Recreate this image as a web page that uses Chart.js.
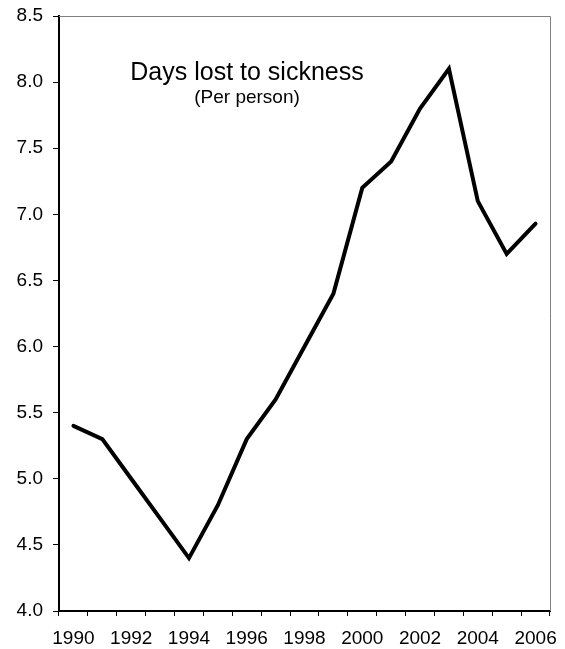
<!DOCTYPE html>
<html>
<head>
<meta charset="utf-8">
<script src="https://cdn.jsdelivr.net/npm/chart.js@4/dist/chart.umd.min.js"></script>
<style>
  body { margin: 0; background: #fff; }
  #wrap { width: 565px; height: 649px; position: relative; }
</style>
</head>
<body>
<div id="wrap"><canvas id="sickChart"></canvas></div>
<script>
// data
const years = ['1990', '1991', '1992', '1993', '1994', '1995', '1996', '1997', '1998',
               '1999', '2000', '2001', '2002', '2003', '2004', '2005', '2006'];
const daysLost = [5.4, 5.3, 5.0, 4.7, 4.4, 4.8, 5.3, 5.6, 6.0,
                  6.4, 7.2, 7.4, 7.8, 8.1, 7.1, 6.7, 6.93];
const titleText = 'Days lost to sickness';
const subtitleText = '(Per person)';

const FONT = '"Liberation Sans", Arial, sans-serif';

// grey frame on top and right + title text inside the plot
const framePlugin = {
    id: 'frame',
    beforeDatasetsDraw(chart) {
        const { ctx, chartArea: a } = chart;
        ctx.save();
        ctx.strokeStyle = '#808080';
        ctx.lineWidth = 1;
        ctx.beginPath();
        ctx.moveTo(a.left, a.top + 0.5);
        ctx.lineTo(a.right + 0.5, a.top + 0.5);
        ctx.lineTo(a.right + 0.5, a.bottom);
        ctx.stroke();
        ctx.restore();
    },
    afterDraw(chart) {
        const { ctx } = chart;
        ctx.save();
        ctx.fillStyle = '#000';
        ctx.textAlign = 'center';
        ctx.textBaseline = 'alphabetic';
        ctx.font = '25px ' + FONT;
        ctx.fillText(titleText, 247, 80);
        ctx.font = '19px ' + FONT;
        ctx.fillText(subtitleText, 247, 103);
        ctx.restore();
    }
};

function initChart() {
    const ctx = document.getElementById('sickChart');
    new Chart(ctx, {
        type: 'line',
        data: {
            labels: years,
            datasets: [{
                data: daysLost,
                borderColor: '#000',
                borderWidth: 4,
                borderCapStyle: 'round',
                borderJoinStyle: 'miter',
                pointRadius: 0,
                tension: 0,
                fill: false
            }]
        },
        options: {
            responsive: true,
            maintainAspectRatio: false,
            animation: false,
            layout: { padding: { left: 0, top: 16, right: 15, bottom: 0 } },
            plugins: { legend: { display: false }, tooltip: { enabled: false } },
            scales: {
                x: {
                    type: 'category',
                    offset: true,
                    afterFit: s => {
                        s.height = 38;
                        s.paddingLeft = 0;
                        s.paddingRight = 0;
                    },
                    grid: { offset: true, drawOnChartArea: false, color: '#000', tickLength: 5 },
                    border: { color: '#000', width: 2 },
                    ticks: {
                        autoSkip: false,
                        maxRotation: 0,
                        padding: 11,
                        color: '#000',
                        font: { family: FONT, size: 19 },
                        callback: function(val, i) {
                            return i % 2 === 0 ? this.getLabelForValue(val) : '';
                        }
                    }
                },
                y: {
                    min: 4,
                    max: 8.5,
                    afterFit: s => {
                        s.width = 59;
                        s.paddingTop = 0;
                        s.paddingBottom = 0;
                    },
                    grid: { drawOnChartArea: false, color: '#000', tickLength: 6 },
                    border: { color: '#000', width: 2 },
                    ticks: {
                        stepSize: 0.5,
                        padding: 10,
                        color: '#000',
                        font: { family: FONT, size: 19 },
                        callback: v => v.toFixed(1)
                    }
                }
            }
        },
        plugins: [framePlugin]
    });
}

window.onload = initChart;
</script>
</body>
</html>
